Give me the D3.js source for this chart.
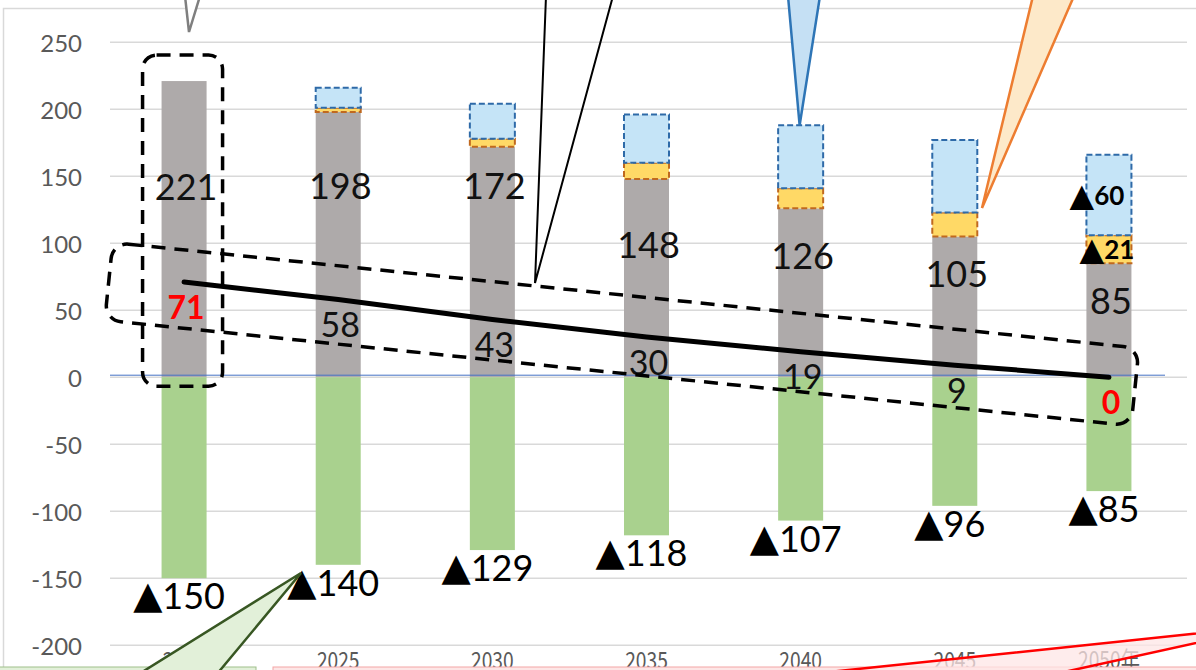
<!DOCTYPE html>
<html>
<head>
<meta charset="utf-8">
<script src="https://cdn.jsdelivr.net/npm/d3@7"></script>
<style>
  body { margin: 0; background: #fff; }
  svg { display: block; }
</style>
</head>
<body>
<script>
// DATA
var years = ["2020", "2025", "2030", "2035", "2040", "2045", "2050年"];
var existing = [221, 198, 172, 148, 126, 105, 85];   // gray
var added = [0, 3, 6, 12, 15, 18, 21];               // orange
var newer = [0, 15, 26, 36, 47, 54, 60];             // blue
var absorbed = [-150, -140, -129, -118, -107, -96, -85]; // green
var net = [71, 58, 43, 30, 19, 9, 0];                // black line
var yTicks = [-200, -150, -100, -50, 0, 50, 100, 150, 200, 250];

// label layout: how far (px) each gray label sits below its bar top
var grayLabelDrop = [105, 73, 38, 65, 47, 36, 37];

var width = 1196, height = 670;
var numFont = "Lato, 'Open Sans', sans-serif";
var triFont = "'DejaVu Sans', sans-serif";

var svg = d3.select("body")
  .append("svg")
  .attr("width", width)
  .attr("height", height);

var x = d3.scaleBand()
  .domain(years)
  .range([107, 1186])
  .paddingInner(0.708)
  .paddingOuter(0.354);

var y = d3.scaleLinear()
  .domain([-200, 250])
  .range([645.2, 42.2]);

var bw = x.bandwidth();
function cx(d) { return x(d) + bw / 2; }

// table for stacking
var rows = years.map(function (yr, i) {
  return { year: yr, existing: existing[i], added: added[i], newer: newer[i], absorbed: absorbed[i] };
});
var series = d3.stack()
  .keys(["existing", "added", "newer", "absorbed"])
  .offset(d3.stackOffsetDiverging)(rows);

var fills = { existing: "#aeaaaa", added: "#ffd966", newer: "#c5e4f7", absorbed: "#a9d18e" };
var strokes = { added: "#c0691f", newer: "#2e6aa8" };

// chart border
svg.append("rect")
  .attr("x", 3.5).attr("y", 8.5)
  .attr("width", 1300).attr("height", 700)
  .style("fill", "none")
  .style("stroke", "#d9d9d9")
  .style("stroke-width", 1.5);

// gridlines
svg.append("g").selectAll("line")
  .data(yTicks)
  .enter().append("line")
  .attr("x1", 110).attr("x2", 1187)
  .attr("y1", function (d) { return y(d); })
  .attr("y2", function (d) { return y(d); })
  .style("stroke", "#d9d9d9")
  .style("stroke-width", 1.5);

// y tick labels
svg.append("g").selectAll("text")
  .data(yTicks)
  .enter().append("text")
  .attr("x", 82)
  .attr("y", function (d) { return y(d); })
  .attr("text-anchor", "end")
  .attr("dominant-baseline", "central")
  .style("font-family", numFont)
  .style("font-size", "24px")
  .style("fill", "#595959")
  .text(function (d) { return d; });

// x labels
svg.append("g").selectAll("text")
  .data(years)
  .enter().append("text")
  .attr("transform", function (d) { return "translate(" + cx(d) + "," + (y(-200) + 13) + ") scale(0.8,1)"; })
  .attr("text-anchor", "middle")
  .attr("dominant-baseline", "central")
  .style("font-family", "'Noto Sans CJK JP', sans-serif")
  .style("font-size", "24px")
  .style("fill", "#595959")
  .text(function (d) { return d; });

// bars
series.forEach(function (s) {
  svg.append("g")
    .attr("class", "bars-" + s.key)
    .selectAll("rect")
    .data(s.filter(function (d) { return d[1] - d[0] !== 0; }))
    .enter().append("rect")
    .attr("x", function (d) { return x(d.data.year); })
    .attr("width", bw)
    .attr("y", function (d) { return y(Math.max(d[0], d[1])); })
    .attr("height", function (d) { return Math.abs(y(d[0]) - y(d[1])); })
    .style("fill", fills[s.key])
    .style("stroke", strokes[s.key] || "none")
    .style("stroke-width", 2)
    .style("stroke-dasharray", strokes[s.key] ? "6,3" : null);
});

// zero axis line
svg.append("line")
  .attr("x1", 110).attr("x2", 1165)
  .attr("y1", y(0) - 2).attr("y2", y(0) - 2)
  .style("stroke", "#4472c4")
  .style("stroke-width", 1);

// net line
var line = d3.line()
  .x(function (d, i) { return cx(years[i]); })
  .y(function (d) { return y(d); });

svg.append("path")
  .datum(net)
  .attr("d", line)
  .style("fill", "none")
  .style("stroke", "#000")
  .style("stroke-width", 5)
  .style("stroke-linecap", "round");

// gray labels
svg.append("g").selectAll("text")
  .data(existing)
  .enter().append("text")
  .attr("x", function (d, i) { return cx(years[i]) + 2; })
  .attr("y", function (d, i) { return y(d) + grayLabelDrop[i]; })
  .attr("text-anchor", "middle")
  .attr("dominant-baseline", "central")
  .style("font-family", numFont)
  .style("font-size", "36px")
  .style("fill", "#111")
  .text(function (d) { return d; });

// net labels
svg.append("g").selectAll("text")
  .data(net)
  .enter().append("text")
  .attr("x", function (d, i) { return cx(years[i]) + 2; })
  .attr("y", function (d) { return y(d) + 24; })
  .attr("text-anchor", "middle")
  .attr("dominant-baseline", "central")
  .style("font-family", numFont)
  .style("font-size", function (d, i) { return (i === 0 || i === net.length - 1) ? "32px" : "34px"; })
  .style("font-weight", function (d, i) { return (i === 0 || i === net.length - 1) ? "bold" : "normal"; })
  .style("fill", function (d, i) { return (i === 0 || i === net.length - 1) ? "#ff0000" : "#111"; })
  .text(function (d) { return d; });

// absorbed labels
var absLabels = svg.append("g").selectAll("text")
  .data(absorbed)
  .enter().append("text")
  .attr("x", function (d, i) { return cx(years[i]) - 5; })
  .attr("y", function (d) { return y(d) + 17; })
  .attr("text-anchor", "middle")
  .attr("dominant-baseline", "central")
  .style("fill", "#000");
absLabels.append("tspan")
  .style("font-family", triFont)
  .style("font-size", "38px")
  .text("▲");
absLabels.append("tspan")
  .style("font-family", numFont)
  .style("font-size", "36px")
  .text(function (d) { return Math.abs(d); });

// 2050 labels for orange and blue segments
var last = years.length - 1;
var segLabels = [
  { v: newer[last], mid: existing[last] + added[last] + newer[last] / 2 },
  { v: added[last], mid: existing[last] + added[last] / 2 }
];
var seg = svg.append("g").selectAll("text")
  .data(segLabels)
  .enter().append("text")
  .attr("x", function (d, i) { return cx(years[last]) + (i === 0 ? -12 : -2); })
  .attr("y", function (d) { return y(d.mid); })
  .attr("text-anchor", "middle")
  .attr("dominant-baseline", "central")
  .style("fill", "#000");
seg.append("tspan")
  .style("font-family", triFont)
  .style("font-size", "32px")
  .text("▲");
seg.append("tspan")
  .style("font-family", numFont)
  .style("font-size", "26px")
  .style("font-weight", "bold")
  .text(function (d) { return d.v; });

// dashed box around 2020 bar
svg.append("rect")
  .attr("x", x(years[0]) - 19)
  .attr("y", y(existing[0]) - 26)
  .attr("width", bw + 35)
  .attr("height", y(0) + 9 - (y(existing[0]) - 26))
  .attr("rx", 14)
  .style("fill", "none")
  .style("stroke", "#000")
  .style("stroke-width", 3.5)
  .style("stroke-dasharray", "14,9");

// tilted dashed box around net line
var p0 = [cx(years[0]), y(net[0])];
var p1 = [cx(years[last]), y(net[last])];
var ang = Math.atan2(p1[1] - p0[1], p1[0] - p0[0]) * 180 / Math.PI;
var len = Math.hypot(p1[0] - p0[0], p1[1] - p0[1]);
svg.append("g")
  .attr("transform", "translate(" + p0[0] + "," + p0[1] + ") rotate(" + ang + ")")
  .append("rect")
  .attr("x", -75).attr("y", -32)
  .attr("width", len + 102).attr("height", 78)
  .attr("rx", 16)
  .style("fill", "none")
  .style("stroke", "#000")
  .style("stroke-width", 3.5)
  .style("stroke-dasharray", "14,9");

// callouts (cut off by the picture edge)
function callout(pts, fill, stroke, op) {
  svg.append("path")
    .attr("d", "M" + pts.map(function (p) { return p.join(","); }).join("L"))
    .style("fill", fill)
    .style("fill-opacity", op == null ? 1 : op)
    .style("stroke", stroke)
    .style("stroke-width", 2.5)
    .style("stroke-linejoin", "miter");
}

// bottom boxes
svg.append("rect").attr("x", -5).attr("y", 667).attr("width", 261).attr("height", 10)
  .style("fill", "#e2f0d9").style("stroke", "#9fbf8c").style("stroke-width", 1);
svg.append("rect").attr("x", 273).attr("y", 667).attr("width", 940).attr("height", 10)
  .style("fill", "#fde6e6").style("stroke", "#f4a6a6").style("stroke-width", 1);

callout([[185, -4], [189, 32], [200, -4]], "#fff", "#7f7f7f");
svg.append("path")
  .attr("d", "M546,-4L535,283L613,-4")
  .style("fill", "none")
  .style("stroke", "#000")
  .style("stroke-width", 2);
callout([[788, -4], [cx(years[4]) - 1, y(existing[4] + added[4] + newer[4])], [820, -4]], "#c5e0f4", "#2e75b6");
callout([[1033, -4], [982, 208], [1074, -4]], "#fde9c9", "#ed7d31");
callout([[139, 674], [301, 573], [217, 674]], "#e2f0d9", "#385723");
callout([[829, 672], [1278, 625], [1064, 672]], "#fde6e6", "#ff0000", 0.75);
</script>
</body>
</html>
